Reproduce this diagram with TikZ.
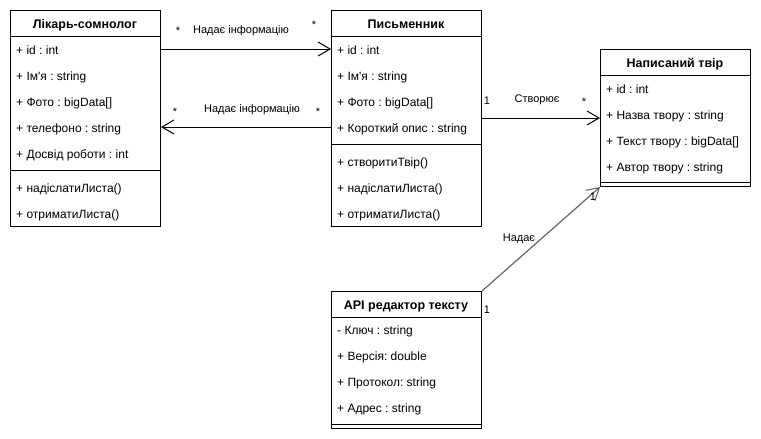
\documentclass[tikz,border=0pt]{standalone}
\usepackage{fontspec}
\setmainfont{Liberation Sans}[Ligatures=TeXOff]
\usetikzlibrary{arrows.meta}
\frenchspacing
\begin{document}
\begin{tikzpicture}[x=1pt,y=-1pt,
  box/.style={draw, line width=1pt, anchor=north west, inner sep=0pt, minimum width=150pt},
  attr/.style={anchor=west, inner sep=0pt, text height=8.6pt, text depth=0pt, font=\frenchspacing\fontsize{12}{14}\selectfont},
  head/.style={inner sep=0pt, text height=9pt, text depth=0pt, font=\frenchspacing\bfseries\fontsize{12.5}{14}\selectfont},
  lbl/.style={inner sep=0pt, font=\frenchspacing\fontsize{11}{12}\selectfont},
  sepline/.style={line width=1pt},
  assoc/.style={line width=1pt, -{Straight Barb[length=12pt,width=14pt,line width=1pt]}},
  gassoc/.style={line width=1.2pt, draw=black!60, -{Straight Barb[length=12pt,width=14pt,line width=1pt]}}]
\useasboundingbox (0,0) rectangle (761,439);
\fill[white] (0,0) rectangle (761,439);

% Box 1
\node[box, minimum height=216pt] (b1) at (10,10) {};
\node[head] (h1) at (85,23.5) {Лікарь-сомнолог};
\draw[sepline] (10,36) -- (160,36);
\draw[sepline] (10,170) -- (160,170);
\node[attr] (a11) at (16,50) {+ id : int};
\node[attr] (a12) at (16,76) {+ Ім'я : string};
\node[attr] (a13) at (16,102) {+ Фото : bigData[]};
\node[attr] (a14) at (16,128) {+ телефоно : string};
\node[attr] (a15) at (16,154) {+ Досвід роботи : int};
\node[attr] (m11) at (16,188) {+ надіслатиЛиста()};
\node[attr] (m12) at (16,214) {+ отриматиЛиста()};

% Box 2
\node[box, minimum height=216pt] (b2) at (331,10) {};
\node[head] (h2) at (406,23.5) {Письменник};
\draw[sepline] (331,36) -- (481,36);
\draw[sepline] (331,144) -- (481,144);
\node[attr] (a21) at (337,50) {+ id : int};
\node[attr] (a22) at (337,76) {+ Ім'я : string};
\node[attr] (a23) at (337,102) {+ Фото : bigData[]};
\node[attr] (a24) at (337,128) {+ Короткий опис : string};
\node[attr] (m21) at (337,162) {+ створитиТвір()};
\node[attr] (m22) at (337,188) {+ надіслатиЛиста()};
\node[attr] (m23) at (337,214) {+ отриматиЛиста()};

% Box 3
\node[box, minimum height=137pt] (b3) at (600,49) {};
\node[head] (h3) at (675,62.5) {Написаний твір};
\draw[sepline] (600,75) -- (750,75);
\draw[sepline] (600,182) -- (750,182);
\node[attr] (a31) at (606,89) {+ id : int};
\node[attr] (a32) at (606,115) {+ Назва твору : string};
\node[attr] (a33) at (606,141) {+ Текст твору : bigData[]};
\node[attr] (a34) at (606,167) {+ Автор твору : string};

% Box 4
\node[box, minimum height=137pt] (b4) at (331,291) {};
\node[head] (h4) at (406,304.5) {API редактор тексту};
\draw[sepline] (331,317) -- (481,317);
\draw[sepline] (331,424) -- (481,424);
\node[attr] (a41) at (337,330) {- Ключ : string};
\node[attr] (a42) at (337,356) {+ Версія: double};
\node[attr] (a43) at (337,382) {+ Протокол: string};
\node[attr] (a44) at (337,408) {+ Адрес : string};

% Connectors
\coordinate (c1) at (0,49);
\coordinate (c2) at (0,127);
\coordinate (c3) at (0,118);
\draw[assoc] (b1.east |- c1) -- (b2.west |- c1);
\draw[assoc] (b2.west |- c2) -- (b1.east |- c2);
\draw[assoc] (b2.east |- c3) -- (b3.west |- c3);
\draw[gassoc] (b4.north east) -- (b3.south west);

% Labels
\node[lbl] (l1a) at (178,31) {*};
\node[lbl] (l1b) at (241,31) {Надає інформацію};
\node[lbl] (l1c) at (314,25) {*};
\node[lbl] (l2a) at (175,112) {*};
\node[lbl] (l2b) at (252,110) {Надає інформацію};
\node[lbl] (l2c) at (318,112) {*};
\node[lbl] (l3a) at (487,101) {1};
\node[lbl] (l3b) at (537,100) {Створює};
\node[lbl] (l3c) at (584,102) {*};
\node[lbl] (l4a) at (519,239) {Надає};
\node[lbl] (l4b) at (593,197) {1};
\node[lbl] (l4c) at (487,310) {1};
\end{tikzpicture}
\end{document}
